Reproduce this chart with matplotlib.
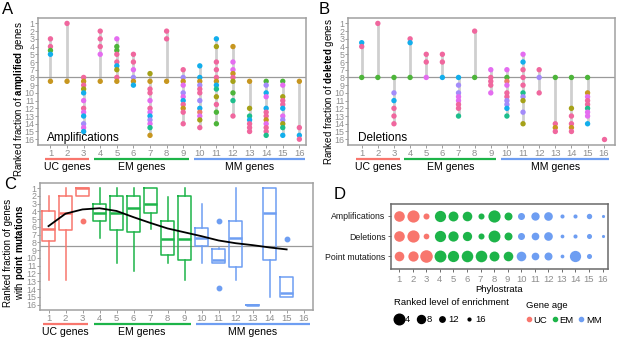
import matplotlib
matplotlib.use("Agg")
import matplotlib.pyplot as plt
from matplotlib.lines import Line2D
from matplotlib.transforms import blended_transform_factory

plt.rcParams["font.family"] = ["Liberation Sans", "DejaVu Sans"]
plt.rcParams["mathtext.fontset"] = "custom"
plt.rcParams["mathtext.rm"] = "Liberation Sans"
plt.rcParams["mathtext.bf"] = "Liberation Sans:bold"
NARROW = ["Liberation Sans Narrow", "Liberation Sans"]

W, H = 617, 340

# colours of the cancer types (dots in A and B)
palette = {"p": "#F0679E", "v": "#E46CF0", "l": "#A38BFA", "b": "#12AEEC",
           "g": "#4DB53A", "o": "#A5A118", "y": "#C7961F", "t": "#1DBE8C",
           "s": "#EC7E6A"}
age_colors = {"UC": "#F8766D", "EM": "#1DB449", "MM": "#6E9EF2"}

phylostrata = list(range(1, 17))
rank_ticks = list(range(1, 17))
age_groups = ["UC"] * 3 + ["EM"] * 6 + ["MM"] * 7
group_names = ["UC genes", "EM genes", "MM genes"]
group_keys = ["UC", "EM", "MM"]
group_first = [1, 4, 10]
group_last = [3, 9, 16]

# panel A: ranked fraction of amplified genes, per phylostratum
amp_ranks = [
    [3, 4, 4.5, 5, 8.5],
    [1, 8.5],
    [8, 8.5, 9, 9.5, 10, 11, 12, 12.5, 13, 14, 14.5, 15],
    [2, 3, 4, 5, 8.5],
    [3, 4, 4.5, 5, 6, 6.5, 7, 8, 8.5],
    [5, 6, 7, 8, 8.5, 9],
    [7.5, 8.5, 9.5, 10, 11, 12, 12.5, 13, 13.5, 14, 14.5, 15.5],
    [2, 3, 8.5],
    [7, 8, 8.5, 9, 10, 10.5, 11, 11.5, 12, 12.5, 14],
    [6.5, 8, 8.5, 9, 9.5, 10, 11, 12, 12.5, 13, 13.5, 14.5],
    [3, 4, 6, 7, 8, 8.5, 9, 9.5, 10.5, 11.5, 12.5, 14],
    [4, 6, 7, 7.5, 8, 8.5, 10, 11, 13],
    [8.5, 12, 13, 13.5, 14, 14.5, 15],
    [8.5, 9, 10, 10.5, 12, 12.5, 13, 13.5, 14, 14.5, 15, 15.5],
    [8.5, 9, 10.5, 11, 11.5, 12, 13, 13.5, 14, 14.5, 15.5],
    [8.5, 14.5, 15.5, 16],
]
amp_colors = ["ppgby", "py", "pypobvpvblvb", "pppvy", "vggppbopy", "ppvlyb",
              "oyppvpvblvty", "ppy", "plyvlvbpypp", "bbylpplbsvop",
              "bopppybtopgg", "yvvypogtp", "yotbppp", "glbvbppyvppt",
              "gvoppbvlotb", "ypbp"]

# panel B: ranked fraction of deleted genes
del_ranks = [
    [3.5, 4, 8],
    [1, 8],
    [8, 10, 11, 12, 13, 14],
    [3, 3.5, 8],
    [5, 6, 8],
    [5, 6, 8],
    [8, 9, 10, 10.5, 11, 11.5, 12, 13],
    [2, 8],
    [7, 8, 8.5, 9, 10],
    [7, 8, 8.5, 9, 10, 10.5, 11, 11.5, 12, 13],
    [5, 6, 7, 8, 9, 10, 10.5, 11, 12.5, 14],
    [7, 8, 10],
    [8, 14, 14.5, 15],
    [8, 12, 13, 14, 14.5, 15],
    [8, 10, 10.5, 11, 11.5, 12, 12.5, 13, 14],
    [16],
]
del_colors = ["bpg", "pg", "glbppp", "pbg", "ppv", "ppb", "bllvvppt", "pg",
              "vpppv", "vgsvppllbt", "vbppptlolo", "plp", "gpyp", "goppyp",
              "gyvpptvvb", "p"]

# panel C: boxplots of ranked fraction of genes with point mutations
box_whislo = [2, 1, 1, 1, 1, 1, 1, 2.1, 1, 3.1, 8.7, 1, 16, 1, 12.4]
box_q1 = [4, 2, 1, 3.1, 2, 2, 1, 5.3, 2, 6.1, 8.8, 5.3, 16, 1, 12.4]
box_med = [6.3, 4.2, 1, 4.2, 4.2, 3.6, 3.1, 7.5, 7.5, 7.4, 10.2, 7.4, 16, 4.2, 14.45]
box_q3 = [7.8, 6.4, 2, 5.3, 6.4, 6.6, 4.2, 9.6, 10.2, 8.5, 10.65, 11.2, 16, 10.2, 15]
box_whishi = [12.8, 12.8, 2, 7.4, 10.6, 11.7, 6.3, 10.6, 12.8, 10.6, 10.65, 12.8, 16, 15, 15]
box_fliers = [[], [], [5.3], [], [], [], [], [], [], [], [5.3, 13.9], [], [], [], [7.5]]
trend_y = [5.9, 4.3, 3.75, 3.6, 3.95, 4.75, 5.5, 6.2, 6.7, 7.2, 7.75, 8.1, 8.35, 8.65, 8.9]

# panel D: ranked level of enrichment (None = not enriched)
row_labels = ["Amplifications", "Deletions", "Point mutations"]
amp_enrich = [4, 1.5, 11, 3, 5, 5.5, 11, 1.5, 8, 9.5, 7.5, 7, 14, 14, 12, 15.5]
del_enrich = [4, 1.5, 11.5, 3, 4.5, 6, 11, 2, 8, 9.5, 8.5, 7, 14.5, 14, 12.5, 15.5]
pm_enrich = [5.5, 4.5, 1, 2, 3, 2.5, 2.5, 5, 5.5, 5.5, 8.5, 8, 14.5, 3, 12.5, None]
legend_ranks = [4, 8, 12, 16]

TICK_GREY = "#8e8e8e"


def diam_pt(rank):
    return (13.2 - 0.65 * rank) * 0.72


fig = plt.figure(figsize=(W / 100, H / 100), dpi=100)


def add_axes_px(left, top, right, bottom):
    return fig.add_axes([left / W, 1 - bottom / H, (right - left) / W, (bottom - top) / H])


def style_rank_axes(ax, xlim, ylim):
    ax.set_xlim(*xlim)
    ax.set_ylim(*ylim)
    ax.set_xticks(phylostrata, labels=[str(p) for p in phylostrata], fontfamily=NARROW)
    ax.set_yticks(rank_ticks, labels=[str(r) for r in rank_ticks], fontfamily=NARROW)
    ax.tick_params(axis="x", labelsize=6.8, labelcolor=TICK_GREY, color=TICK_GREY,
                   length=2, width=0.6, pad=0.8)
    ax.tick_params(axis="y", labelsize=6.4, labelcolor=TICK_GREY, color=TICK_GREY,
                   length=2, width=0.6, pad=0.4)
    for sp in ax.spines.values():
        sp.set_color("#a0a0a0")
        sp.set_linewidth(1.1)


def draw_groups(ax, line_y, text_y):
    trans = blended_transform_factory(ax.transData, ax.transAxes)
    for name, key, a, b in zip(group_names, group_keys, group_first, group_last):
        ax.plot([a - 0.35, b + 0.35], [line_y, line_y], transform=trans,
                clip_on=False, color=age_colors[key], lw=1.6, solid_capstyle="butt")
        ax.text((a + b) / 2, text_y, name, transform=trans, ha="center",
                va="center", fontsize=7.6)


def draw_lollipops(ax, ranks, codes):
    for x, rs, cs in zip(phylostrata, ranks, codes):
        if len(rs) > 1:
            ax.vlines(x, min(rs), max(rs), color="#cfcfcf", lw=2, zorder=1)
        ax.scatter([x] * len(rs), rs, c=[palette[c] for c in cs], s=15,
                   linewidths=0, zorder=3)


# ---- A
ax_a = add_axes_px(38, 18, 306, 145)
style_rank_axes(ax_a, (0.25, 16.4), (16.75, 0.3))
ax_a.axhline(8, color="#9a9a9a", lw=0.9, zorder=2)
draw_lollipops(ax_a, amp_ranks, amp_colors)
ax_a.text(0.034, 0.03, "Amplifications", transform=ax_a.transAxes, fontsize=8.5)
ax_a.set_ylabel(r"Ranked fraction of $\bf{amplified}$ genes", fontsize=7)
ax_a.yaxis.set_label_coords(-0.046, 0.36)
draw_groups(ax_a, -0.11, -0.175)

# ---- B
ax_b = add_axes_px(348, 18, 615, 145)
style_rank_axes(ax_b, (0.15, 16.7), (16.75, 0.3))
ax_b.axhline(8, color="#9a9a9a", lw=0.9, zorder=2)
draw_lollipops(ax_b, del_ranks, del_colors)
ax_b.text(0.037, 0.03, "Deletions", transform=ax_b.transAxes, fontsize=8.5)
ax_b.set_ylabel(r"Ranked fraction of $\bf{deleted}$ genes", fontsize=7)
ax_b.yaxis.set_label_coords(-0.046, 0.42)
draw_groups(ax_b, -0.11, -0.175)

# ---- C
ax_c = add_axes_px(40, 183, 313, 310)
style_rank_axes(ax_c, (0.5, 16.55), (16.7, 0.35))
ax_c.axhline(8.5, color="#9a9a9a", lw=0.9, zorder=1)
for i in range(len(box_med)):
    col = age_colors[age_groups[i]]
    stats = [dict(whislo=box_whislo[i], q1=box_q1[i], med=box_med[i], q3=box_q3[i],
                  whishi=box_whishi[i], fliers=box_fliers[i])]
    ax_c.bxp(stats, positions=[phylostrata[i]], widths=0.75, showcaps=False,
             manage_ticks=False,
             boxprops=dict(color=col, lw=1.1),
             whiskerprops=dict(color=col, lw=1.1),
             medianprops=dict(color=col, lw=1.8),
             flierprops=dict(marker="o", markerfacecolor=col, markeredgecolor=col,
                             markersize=3.2))
ax_c.plot(phylostrata[:len(trend_y)], trend_y, color="black", lw=1.3, zorder=5)
ax_c.set_ylabel("Ranked fraction of genes\nwith " + r"$\bf{point\ mutations}$",
                fontsize=7, linespacing=0.95)
ax_c.yaxis.set_label_coords(-0.049, 0.45)
draw_groups(ax_c, -0.111, -0.172)

# ---- D
ax_d = add_axes_px(391, 204, 608, 269)
for row, vals in enumerate([amp_enrich, del_enrich, pm_enrich], start=1):
    for x, v, g in zip(phylostrata, vals, age_groups):
        if v is None:
            continue
        ax_d.scatter(x, row, s=diam_pt(v) ** 2, color=age_colors[g], linewidths=0)
ax_d.set_xlim(0.4, 16.4)
ax_d.set_ylim(3.62, 0.42)
ax_d.set_xticks(phylostrata, labels=[str(p) for p in phylostrata], fontfamily=NARROW)
ax_d.set_yticks([1, 2, 3], labels=row_labels)
ax_d.tick_params(axis="x", labelsize=6.8, labelcolor=TICK_GREY, color="#555555",
                 length=2.5, width=0.6, pad=1.5)
ax_d.tick_params(axis="y", labelsize=6.3, labelcolor="#1a1a1a", color="#555555",
                 length=2.5, width=0.6, pad=1.5)
for sp in ax_d.spines.values():
    sp.set_color("#6a6a6a")
    sp.set_linewidth(1.1)
ax_d.set_xlabel("Phylostrata", fontsize=6.8, labelpad=1)

size_handles = [Line2D([], [], ls="", marker="o", color="black",
                       markersize=diam_pt(r)) for r in legend_ranks]
leg1 = ax_d.legend(size_handles, [str(r) for r in legend_ranks],
                   title="Ranked level of enrichment", title_fontsize=6.8,
                   fontsize=6.8, ncol=4, frameon=False, loc="upper left",
                   bbox_to_anchor=(394 / W, 1 - 298 / H),
                   bbox_transform=fig.transFigure, alignment="left",
                   handlelength=1.0, handletextpad=0.15, columnspacing=0.6,
                   borderpad=0, borderaxespad=0, labelspacing=0.9)
ax_d.add_artist(leg1)
age_handles = [Line2D([], [], ls="", marker="o", color=age_colors[k],
                      markersize=3) for k in group_keys]
ax_d.legend(age_handles, group_keys, title="Gene age", title_fontsize=6.8,
            fontsize=6.8, ncol=3, frameon=False, loc="upper left",
            bbox_to_anchor=(526 / W, 1 - 301 / H), bbox_transform=fig.transFigure,
            alignment="left", handlelength=0.6, handletextpad=0.2,
            columnspacing=0.5, borderpad=0, borderaxespad=0, labelspacing=0.6)

# panel letters
for letter, x, y in [("A", 2, 2), ("B", 319, 2), ("C", 4, 177), ("D", 334, 187)]:
    fig.text(x / W, 1 - y / H, letter, fontsize=12, va="top", ha="left")

fig.savefig("out.png", dpi=100)
